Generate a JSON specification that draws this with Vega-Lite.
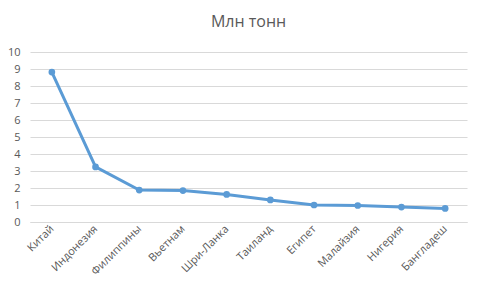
{
  "$schema": "https://vega.github.io/schema/vega-lite/v6.json",
  "width": 437,
  "height": 170,
  "autosize": {"type": "none"},
  "padding": {"left": 30, "top": 52, "right": 13, "bottom": 66},
  "background": "white",
  "title": {
    "text": "Млн тонн",
    "font": "Open Sans",
    "fontSize": 16,
    "fontWeight": "normal",
    "color": "#595959",
    "anchor": "middle",
    "offset": 16
  },
  "config": {
    "view": {"stroke": null},
    "axis": {"labelFont": "Open Sans", "labelFontSize": 11, "labelColor": "#595959", "labelOverlap": false}
  },
  "data": {
    "values": [
      {"country": "Китай", "value": 8.82},
      {"country": "Индонезия", "value": 3.24},
      {"country": "Филиппины", "value": 1.88},
      {"country": "Вьетнам", "value": 1.85},
      {"country": "Шри-Ланка", "value": 1.62},
      {"country": "Таиланд", "value": 1.3},
      {"country": "Египет", "value": 1.0},
      {"country": "Малайзия", "value": 0.97},
      {"country": "Нигерия", "value": 0.88},
      {"country": "Бангладеш", "value": 0.8}
    ]
  },
  "mark": {"type": "line", "color": "#5B9BD5", "strokeWidth": 3, "point": {"filled": true, "size": 45, "color": "#5B9BD5"}},
  "encoding": {
    "x": {
      "field": "country",
      "type": "nominal",
      "sort": null,
      "scale": {"type": "point", "padding": 0.5},
      "axis": {
        "title": null,
        "labelAngle": -45,
        "labelAlign": "right",
        "labelBaseline": "middle",
        "labelPadding": 5,
        "ticks": false,
        "domain": true,
        "domainColor": "#D9D9D9",
        "grid": false
      }
    },
    "y": {
      "field": "value",
      "type": "quantitative",
      "scale": {"domain": [0, 10], "nice": false},
      "axis": {
        "title": null,
        "values": [0,1,2,3,4,5,6,7,8,9,10],
        "ticks": false,
        "domain": false,
        "gridColor": "#D9D9D9",
        "labelPadding": 10
      }
    }
  }
}
